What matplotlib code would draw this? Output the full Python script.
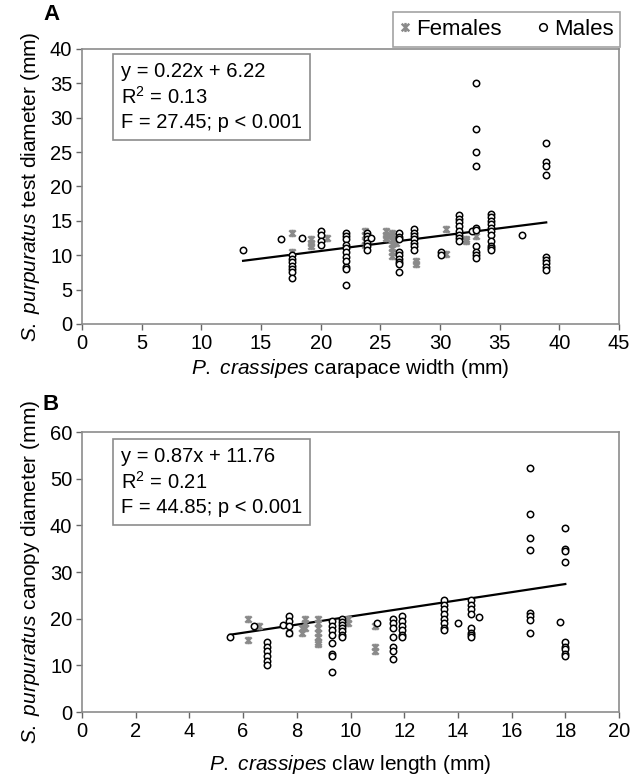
import matplotlib
matplotlib.use("Agg")
import matplotlib.pyplot as plt
from matplotlib.path import Path
import numpy as np

plt.rcParams['font.family'] = ['Liberation Sans', 'DejaVu Sans']
plt.rcParams['mathtext.fontset'] = 'custom'
plt.rcParams['mathtext.rm'] = 'Liberation Sans'
plt.rcParams['mathtext.it'] = 'Liberation Sans:italic'
plt.rcParams['mathtext.bf'] = 'Liberation Sans:bold'

# ---------------- Panel A data ----------------
a_male_x = [13.5, 16.7] + [17.6]*7 + [18.4] + [20.0]*4 + [22.1]*11 + [23.9]*6 + [24.2] \
    + [26.6]*9 + [27.8]*7 + [30.1]*2 + [31.6]*8 + [32.7] + [33.0]*10 + [34.3]*11 + [36.9] + [38.9]*9
a_male_y = [10.7, 12.3,
            10.0, 9.5, 9.0, 8.5, 8.0, 7.5, 6.7,
            12.5,
            13.5, 13.0, 12.0, 11.5,
            13.2, 12.8, 12.3, 11.5, 11.0, 10.5, 9.8, 9.2, 8.3, 8.0, 5.7,
            13.3, 12.8, 12.3, 11.8, 11.3, 10.8,
            12.5,
            13.2, 12.7, 12.3, 10.5, 10.0, 9.5, 9.0, 8.7, 7.5,
            13.8, 13.3, 12.8, 12.3, 11.8, 11.3, 10.8,
            10.5, 10.0,
            15.8, 15.3, 14.8, 14.3, 13.5, 13.0, 12.5, 12.0,
            13.5,
            35.0, 28.3, 25.0, 23.0, 14.0, 13.7, 11.3, 10.5, 10.0, 9.6,
            16.0, 15.5, 15.0, 14.5, 14.0, 13.5, 13.0, 12.0, 11.3, 11.0, 10.7,
            12.9,
            26.3, 23.5, 23.0, 21.6, 9.8, 9.3, 8.8, 8.3, 7.9]
a_fem_x = [17.6]*2 + [19.2]*3 + [20.5] + [23.7]*4 + [25.5]*3 + [26.0]*7 + [26.3]*2 \
    + [28.0]*2 + [30.5]*2 + [32.2]*2 + [33.0]
a_fem_y = [13.2, 10.5,
           12.3, 11.8, 11.3,
           12.5,
           13.5, 13.0, 12.0, 11.5,
           13.5, 13.0, 12.5,
           13.3, 12.8, 12.2, 11.6, 11.0, 10.4, 9.9,
           12.5, 11.8,
           9.2, 8.7,
           13.8, 10.2,
           12.4, 12.0,
           12.8]
a_slope, a_icpt = 0.22, 6.22
a_fit_x = [13.5, 38.9]
a_stats = ["y = 0.22x + 6.22", "R$^2$ = 0.13", "F = 27.45; p < 0.001"]

# ---------------- Panel B data ----------------
b_male_x = [5.5, 6.4] + [6.9]*6 + [7.5] + [7.7]*4 + [9.3]*8 + [9.7]*7 + [11.0] + [11.6]*7 \
    + [11.9]*6 + [13.5]*8 + [14.0] + [14.5]*8 + [14.8] + [16.7]*8 + [17.8] + [18.0]*9
b_male_y = [16.0, 18.5,
            15.0, 14.0, 13.0, 12.0, 11.0, 10.0,
            18.7,
            20.5, 19.5, 18.5, 17.0,
            19.5, 18.5, 17.5, 16.5, 14.8, 12.5, 12.0, 8.5,
            20.0, 19.3, 18.6, 18.0, 17.3, 16.5, 16.0,
            19.0,
            20.0, 19.0, 18.0, 16.0, 14.0, 13.0, 11.3,
            20.5, 19.5, 18.5, 17.5, 16.5, 16.0,
            24.0, 23.0, 22.0, 21.0, 20.0, 19.0, 18.0, 17.5,
            19.0,
            24.0, 23.0, 22.0, 21.0, 18.0, 17.0, 16.5, 16.0,
            20.3,
            52.2, 42.5, 37.3, 34.7, 21.3, 20.5, 19.8, 17.0,
            19.3,
            39.5, 35.0, 34.5, 32.2, 15.0, 14.0, 13.5, 12.5, 12.0]
b_fem_x = [6.2]*2 + [6.6] + [7.7] + [8.2]*2 + [8.3]*3 + [8.8]*7 + [9.9]*2 + [10.9]*3
b_fem_y = [20.0, 15.5,
           18.5,
           17.0,
           18.0, 17.0,
           20.0, 19.0, 18.0,
           20.0, 19.0, 18.0, 17.0, 16.0, 15.0, 14.5,
           20.0, 19.0,
           18.5, 14.0, 13.0]
b_slope, b_icpt = 0.87, 11.76
b_fit_x = [5.5, 18.0]
b_stats = ["y = 0.87x + 11.76", "R$^2$ = 0.21", "F = 44.85; p < 0.001"]

# ---------------- styling ----------------
W, H = 633, 781
fig = plt.figure(figsize=(W/100, H/100), dpi=100)

star = Path([(-1, -1), (1, 1), (-1, 1), (1, -1), (0, -1.2), (0, 1.2)],
            [Path.MOVETO, Path.LINETO, Path.MOVETO, Path.LINETO, Path.MOVETO, Path.LINETO])
FEM_C = '#8a8a8a'
TICK_FS = 14.5
LAB_FS = 15
STAT_FS = 14.5
LEG_FS = 16
SPINE_C = '#8c8c8c'


def make_axes(top_px, bot_px):
    left, right = 82, 619
    return fig.add_axes([left/W, 1-bot_px/H, (right-left)/W, (bot_px-top_px)/H])


def style(ax):
    for s in ax.spines.values():
        s.set_color(SPINE_C)
        s.set_linewidth(1.2)
    ax.tick_params(direction='out', length=4, width=1, color='#666666',
                   labelsize=TICK_FS, pad=3, top=False, right=False)


def draw(ax, mx, my, fx, fy, slope, icpt, fitx, stats, box_px):
    fxs = np.array(fitx)
    ax.plot(fxs, slope*fxs + icpt, color='black', lw=1.6, zorder=2)
    ax.plot(fx, fy, linestyle='none', marker=star, markersize=5.5, mew=1.7,
            color=FEM_C, zorder=3, label='Females')
    ax.plot(mx, my, linestyle='none', marker='o', markersize=4.6, mew=1.1,
            mfc='white', mec='black', zorder=4, label='Males')
    x0, y0 = box_px
    fig.text(x0/W, 1-y0/H, "\n".join(stats), fontsize=STAT_FS, va='top', ha='left',
             linespacing=1.3,
             bbox=dict(boxstyle='square,pad=0.4', fc='white', ec=SPINE_C, lw=1.2))


# Panel A
axA = make_axes(49, 324)
style(axA)
draw(axA, a_male_x, a_male_y, a_fem_x, a_fem_y, a_slope, a_icpt, a_fit_x, a_stats, (121, 62))
axA.set_xlim(0, 45)
axA.set_ylim(0, 40)
axA.set_xticks(np.arange(0, 46, 5))
axA.set_yticks(np.arange(0, 41, 5))
axA.set_xlabel(r"$\it{P.\ crassipes}$ carapace width (mm)", fontsize=LAB_FS, labelpad=3)
axA.set_ylabel(r"$\it{S.\ purpuratus}$ test diameter (mm)", fontsize=LAB_FS, labelpad=6)
leg = axA.legend(loc='lower right', bbox_to_anchor=(1.006, 1.0), ncol=2, frameon=True,
                 fontsize=LEG_FS, fancybox=False, edgecolor=SPINE_C, borderaxespad=0.1,
                 handlelength=0.5, handletextpad=0.25, columnspacing=1.6,
                 borderpad=0.3, markerscale=1.2)
leg.get_frame().set_linewidth(1.2)
fig.text(43/W, 1-15/H, "A", fontsize=16, fontweight='bold', va='center', ha='left')

# Panel B
axB = make_axes(432, 712)
style(axB)
draw(axB, b_male_x, b_male_y, b_fem_x, b_fem_y, b_slope, b_icpt, b_fit_x, b_stats, (121, 447))
axB.set_xlim(0, 20)
axB.set_ylim(0, 60)
axB.set_xticks(np.arange(0, 21, 2))
axB.set_yticks(np.arange(0, 61, 10))
axB.set_xlabel(r"$\it{P.\ crassipes}$ claw length (mm)", fontsize=LAB_FS, labelpad=9)
axB.set_ylabel(r"$\it{S.\ purpuratus}$ canopy diameter (mm)", fontsize=LAB_FS, labelpad=6)
fig.text(43/W, 1-404/H, "B", fontsize=16, fontweight='bold', va='center', ha='left')

fig.savefig("out.png", dpi=100)
